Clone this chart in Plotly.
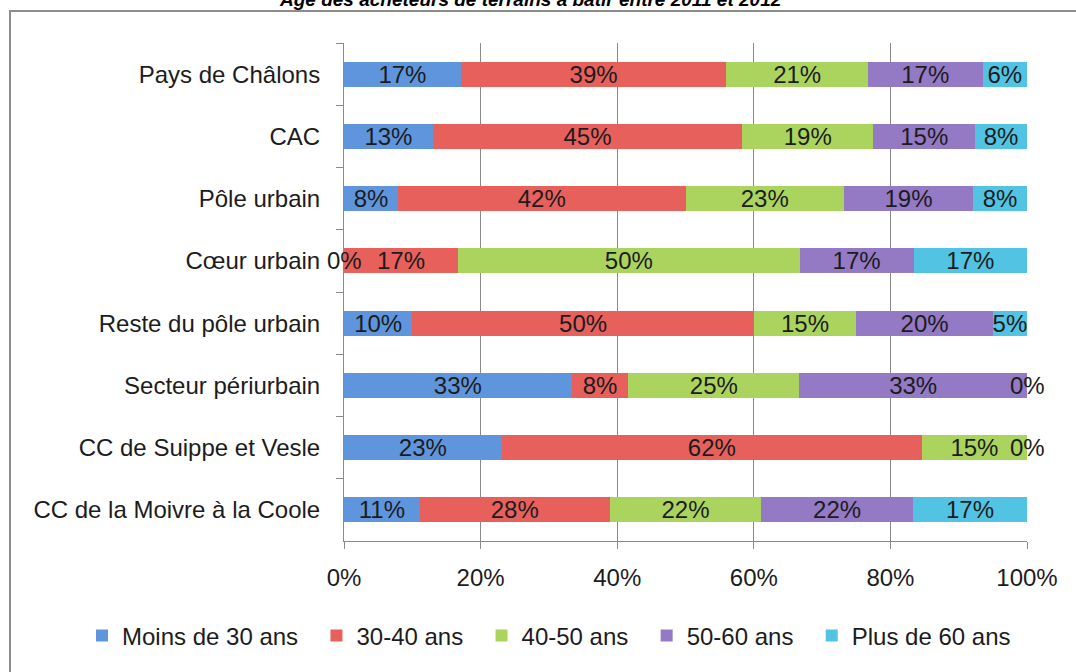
import plotly.graph_objects as go

categories = ["Pays de Châlons", "CAC", "Pôle urbain", "Cœur urbain",
              "Reste du pôle urbain", "Secteur périurbain",
              "CC de Suippe et Vesle", "CC de la Moivre à la Coole"]

series_names = ["Moins de 30 ans", "30-40 ans", "40-50 ans", "50-60 ans", "Plus de 60 ans"]

moins_30 = [17.1, 13.0, 7.9, 0.0, 10.0, 33.3, 23.1, 11.1]
ans_30_40 = [38.9, 45.3, 42.1, 16.7, 50.0, 8.3, 61.5, 27.8]
ans_40_50 = [20.7, 19.2, 23.2, 50.0, 15.0, 25.0, 15.4, 22.2]
ans_50_60 = [16.8, 14.9, 18.9, 16.7, 20.0, 33.3, 0.0, 22.2]
plus_60 = [6.5, 7.6, 7.9, 16.6, 5.0, 0.0, 0.0, 16.7]

lbl_moins_30 = ["17%", "13%", "8%", "0%", "10%", "33%", "23%", "11%"]
lbl_30_40 = ["39%", "45%", "42%", "17%", "50%", "8%", "62%", "28%"]
lbl_40_50 = ["21%", "19%", "23%", "50%", "15%", "25%", "15%", "22%"]
lbl_50_60 = ["17%", "15%", "19%", "17%", "20%", "33%", "0%", "22%"]
lbl_plus_60 = ["6%", "8%", "8%", "17%", "5%", "0%", "0%", "17%"]

x_ticks = [0, 20, 40, 60, 80, 100]
x_ticklabels = ["0%", "20%", "40%", "60%", "80%", "100%"]

title_text = "Âge des acheteurs de terrains à bâtir entre 2011 et 2012"

colors = ["#5f95dd", "#e8605c", "#abd45e", "#9479c4", "#52c3e3"]
values = [moins_30, ans_30_40, ans_40_50, ans_50_60, plus_60]
labels = [lbl_moins_30, lbl_30_40, lbl_40_50, lbl_50_60, lbl_plus_60]

FONT = "Liberation Sans, Arial, sans-serif"
TXT = "#1c1c1c"

# plot area geometry (pixels)
L, R, T, B = 344, 49, 43, 131
W, H = 1076, 672
PW, PH = W - L - R, H - T - B


def px_x(p):
    return (p - L) / PW


def px_y(p):
    return (H - B - p) / PH


fig = go.Figure()
pad = "\u00a0\u00a0"
for i, (name, vals, lbls, col) in enumerate(zip(series_names, values, labels, colors)):
    shown = [t if v > 0 else "" for v, t in zip(vals, lbls)]
    fig.add_trace(go.Bar(
        y=categories, x=vals, orientation="h",
        name=name + (pad if i < len(series_names) - 1 else ""),
        marker=dict(color=col, line=dict(width=0)),
        text=shown, textposition="inside", insidetextanchor="middle",
        textfont=dict(family=FONT, size=24, color=TXT),
        constraintext="none", cliponaxis=False,
        hoverinfo="skip",
    ))

# labels for zero-width segments, placed at the segment position
annotations = []
seen = set()
for r, cat in enumerate(categories):
    total = sum(v[r] for v in values)
    cum = 0.0
    for s in range(len(values)):
        v = values[s][r]
        if v == 0:
            pos = round(cum / total * 100, 3)
            if (cat, pos) not in seen:
                seen.add((cat, pos))
                annotations.append(dict(
                    x=pos, y=cat, xref="x", yref="y", text=labels[s][r],
                    showarrow=False, xanchor="center", yanchor="middle",
                    font=dict(family=FONT, size=24, color=TXT)))
        cum += v

annotations.append(dict(
    x=px_x(530), y=px_y(-1), xref="paper", yref="paper",
    text="<b><i>" + title_text + "</i></b>", showarrow=False,
    xanchor="center", yanchor="middle",
    font=dict(family=FONT, size=19, color="#000000")))

fig.update_layout(
    width=W, height=H,
    margin=dict(l=L, r=R, t=T, b=B, pad=0),
    barmode="stack", barnorm="percent", bargap=0.6,
    paper_bgcolor="white", plot_bgcolor="white",
    font=dict(family=FONT, size=24, color=TXT),
    uniformtext=dict(minsize=24, mode="show"),
    showlegend=True,
    legend=dict(orientation="h", x=px_x(82), y=px_y(636),
                xanchor="left", yanchor="middle",
                font=dict(family=FONT, size=24, color=TXT),
                traceorder="normal", bgcolor="rgba(0,0,0,0)"),
    annotations=annotations,
    shapes=[dict(type="rect", xref="paper", yref="paper",
                 x0=px_x(10), x1=px_x(1200), y0=px_y(11), y1=px_y(800),
                 line=dict(color="#8c8c8c", width=2), layer="below")],
)

fig.update_xaxes(
    range=[0, 100], tickvals=x_ticks, ticktext=x_ticklabels,
    showgrid=True, gridcolor="#8a8a8a", gridwidth=1,
    showline=True, linecolor="#8a8a8a", linewidth=1,
    ticks="outside", ticklen=7, tickcolor="#8a8a8a",
    ticklabelstandoff=8, zeroline=False,
    tickfont=dict(family=FONT, size=24, color=TXT), fixedrange=True,
)
fig.update_yaxes(
    categoryorder="array", categoryarray=categories, autorange="reversed",
    showgrid=False, showline=True, linecolor="#8a8a8a", linewidth=1,
    ticks="outside", ticklen=7, tickcolor="#8a8a8a", tickson="boundaries",
    ticklabelstandoff=18,
    tickfont=dict(family=FONT, size=24, color=TXT), fixedrange=True,
)

fig.write_html("out.html")
